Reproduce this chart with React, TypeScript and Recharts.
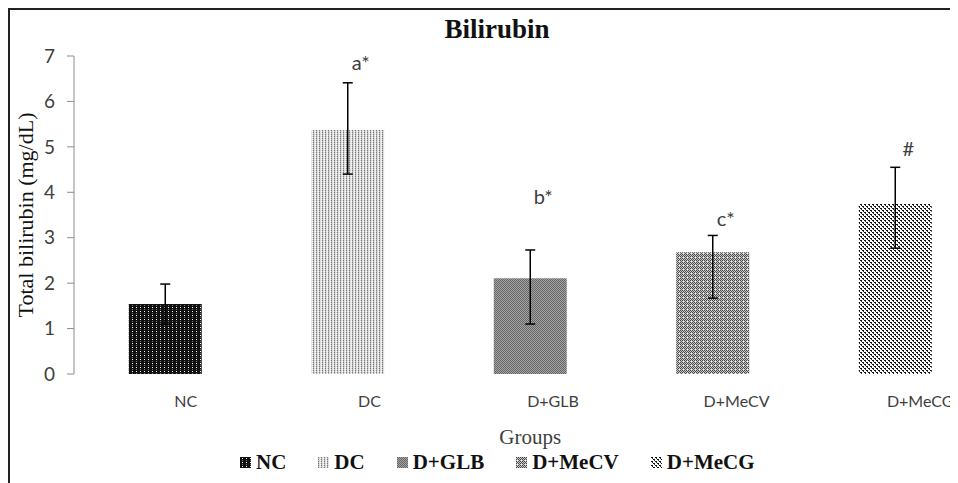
import { ComposedChart, Bar, Line, Cell, XAxis, YAxis, ErrorBar, Legend, Label } from 'recharts';

const groups = ['NC', 'DC', 'D+GLB', 'D+MeCV', 'D+MeCG'];
const bilirubin = [1.54, 5.37, 2.11, 2.68, 3.74];
const errLow = [0.44, 0.97, 1.01, 1.01, 0.97];
const errHigh = [0.44, 1.04, 0.62, 0.37, 0.81];
const marks = ['', 'a*', 'b*', 'c*', '#'];
const markAt = [null, 6.86, 3.92, 3.44, 4.97];
const yTicks = [0, 1, 2, 3, 4, 5, 6, 7];

const data = groups.map((g, i) => ({
  group: g,
  value: bilirubin[i],
  err: [errLow[i], errHigh[i]],
  mark: markAt[i],
}));

const SERIF = '"Liberation Serif", "DejaVu Serif", serif';
const SANS = 'Lato, "Liberation Sans", sans-serif';
const BAR_PAD_RIGHT = 25.5;

function Patterns() {
  return (
    <defs>
      <pattern id="pat-0" width="4" height="4" patternUnits="userSpaceOnUse">
        <rect width="4" height="4" fill="#111" />
        <rect x="2" y="1" width="1" height="1" fill="#fff" />
        <rect x="2" y="3" width="1" height="1" fill="#777" />
      </pattern>
      <pattern id="pat-1" width="3" height="2" patternUnits="userSpaceOnUse">
        <rect width="3" height="2" fill="#dedede" />
        <rect x="0" y="0" width="1" height="1" fill="#7a7a7a" />
        <rect x="0" y="1" width="1" height="1" fill="#b8b8b8" />
        <rect x="2" y="1" width="1" height="1" fill="#fff" />
      </pattern>
      <pattern id="pat-2" width="2" height="2" patternUnits="userSpaceOnUse">
        <rect width="2" height="2" fill="#a4a4a4" />
        <rect x="0" y="0" width="1" height="1" fill="#666" />
        <rect x="1" y="1" width="1" height="1" fill="#666" />
      </pattern>
      <pattern id="pat-3" width="4" height="4" patternUnits="userSpaceOnUse">
        <rect width="4" height="4" fill="#c8c8c8" />
        <rect x="0" y="0" width="1" height="1" fill="#444" />
        <rect x="2" y="0" width="1" height="1" fill="#444" />
        <rect x="1" y="1" width="1" height="1" fill="#555" />
        <rect x="3" y="1" width="1" height="1" fill="#555" />
        <rect x="0" y="2" width="1" height="1" fill="#444" />
        <rect x="2" y="2" width="1" height="1" fill="#444" />
        <rect x="3" y="3" width="1" height="1" fill="#555" />
        <rect x="1" y="3" width="1" height="1" fill="#f2f2f2" />
      </pattern>
      <pattern id="pat-4" width="4" height="4" patternUnits="userSpaceOnUse">
        <rect width="4" height="4" fill="#fff" />
        <rect x="0" y="0" width="2" height="1" fill="#111" />
        <rect x="1" y="1" width="1" height="1" fill="#333" />
        <rect x="2" y="2" width="2" height="1" fill="#111" />
        <rect x="3" y="3" width="1" height="1" fill="#333" />
      </pattern>
    </defs>
  );
}

function LegendContent() {
  return (
    <div style={{ display: 'flex', alignItems: 'center', gap: 32, fontFamily: SERIF, fontWeight: 'bold', fontSize: 21, color: '#111' }}>
      {groups.map((g, i) => (
        <div key={g} style={{ display: 'flex', alignItems: 'center', gap: 5 }}>
          <svg width={11} height={11}>
            <rect width={11} height={11} fill={`url(#pat-${i})`} />
          </svg>
          <span>{g}</span>
        </div>
      ))}
    </div>
  );
}

function renderMark(props: any) {
  const { x, y, index, value } = props;
  if (value == null || !marks[index]) return null;
  return (
    <text x={x + 13} y={y} textAnchor="middle" dominantBaseline="central" fontFamily={SANS} fontSize={20} fill="#404040">
      {marks[index]}
    </text>
  );
}

export default function App() {
  return (
    <div
      style={{
        position: 'relative',
        width: 950,
        height: 475,
        overflow: 'hidden',
        borderLeft: '2px solid #222',
        borderTop: '2px solid #222',
        boxSizing: 'border-box',
        background: '#fff',
      }}
    >
      <div
        style={{
          position: 'absolute',
          left: 0,
          top: 4,
          width: 974,
          textAlign: 'center',
          fontFamily: SERIF,
          fontWeight: 'bold',
          fontSize: 27,
          color: '#111',
          zIndex: 2,
        }}
      >
        Bilirubin
      </div>
      <ComposedChart
        width={1060}
        height={473}
        data={data}
        margin={{ top: 46, right: 58, bottom: 79, left: 14 }}
        barCategoryGap="30%"
      >
        <Patterns />
        <XAxis
          xAxisId="bars"
          dataKey="group"
          padding={{ left: 0, right: BAR_PAD_RIGHT }}
          axisLine={{ stroke: '#bfbfbf', strokeWidth: 2 }}
          tickLine={false}
          tick={false}
          height={0}
        />
        <XAxis
          xAxisId="labels"
          dataKey="group"
          padding={{ left: 20, right: 0 }}
          axisLine={false}
          tickLine={false}
          tickSize={0}
          tickMargin={22}
          height={30}
          tick={{ fill: '#404040', fontSize: 16, fontFamily: SANS }}
        >
          <Label
            content={(p: any) => {
              const vb = p.viewBox;
              return (
                <text x={vb.x + (vb.width - BAR_PAD_RIGHT) / 2} y={434} textAnchor="middle" fontFamily={SERIF} fontSize={21} fill="#404040">
                  Groups
                </text>
              );
            }}
          />
        </XAxis>
        <YAxis
          domain={[0, 7]}
          ticks={yTicks}
          interval={0}
          width={50}
          axisLine={{ stroke: '#8c8c8c' }}
          tickLine={{ stroke: '#8c8c8c' }}
          tickSize={7}
          tickMargin={12}
          tick={{ fill: '#404040', fontSize: 19, fontFamily: SANS }}
        >
          <Label
            content={(p: any) => {
              const vb = p.viewBox;
              const cy = vb.y + vb.height / 2;
              return (
                <text x={15} y={cy} transform={`rotate(-90, 15, ${cy})`} textAnchor="middle" dominantBaseline="central" fontFamily={SERIF} fontSize={22} fill="#111">
                  Total bilirubin (mg/dL)
                </text>
              );
            }}
          />
        </YAxis>
        <Bar xAxisId="bars" dataKey="value" isAnimationActive={false}>
          {data.map((_, i) => (
            <Cell key={`c-${i}`} fill={`url(#pat-${i})`} />
          ))}
          <ErrorBar dataKey="err" width={5} stroke="#000" strokeWidth={1.5} direction="y" />
        </Bar>
        <Line xAxisId="bars" dataKey="mark" stroke="none" dot={false} activeDot={false} legendType="none" isAnimationActive={false} label={renderMark} />
        <Legend
          layout="horizontal"
          verticalAlign="middle"
          content={<LegendContent />}
          wrapperStyle={{ top: 440, left: 230, width: 'auto' }}
        />
      </ComposedChart>
    </div>
  );
}
